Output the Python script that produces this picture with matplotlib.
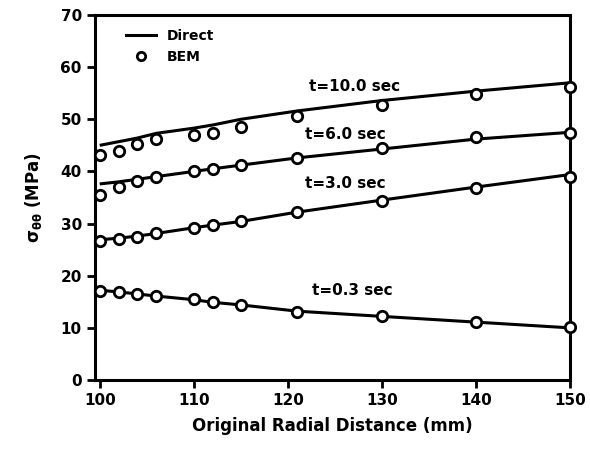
import matplotlib
matplotlib.use("Agg")
import matplotlib.pyplot as plt
from matplotlib.lines import Line2D

# radial distance (mm)
radius = [100, 102, 104, 106, 110, 112, 115, 121, 130, 140, 150]

# direct solution, hoop stress (MPa)
direct_t10 = [45.0, 45.7, 46.4, 47.3, 48.3, 48.9, 50.0, 51.6, 53.6, 55.4, 57.0]
direct_t6 = [37.6, 38.0, 38.5, 39.0, 40.0, 40.5, 41.2, 42.6, 44.3, 46.2, 47.5]
direct_t3 = [26.9, 27.2, 27.6, 28.1, 29.2, 29.7, 30.4, 32.2, 34.5, 37.0, 39.4]
direct_t03 = [17.2, 16.9, 16.5, 16.1, 15.4, 14.9, 14.4, 13.2, 12.2, 11.1, 10.0]

# BEM solution
bem_t10 = [43.1, 44.0, 45.2, 46.2, 46.9, 47.4, 48.5, 50.7, 52.8, 54.8, 56.2]
bem_t6 = [35.5, 37.1, 38.2, 39.0, 40.0, 40.5, 41.3, 42.6, 44.5, 46.6, 47.3]
bem_t3 = [26.6, 27.1, 27.5, 28.1, 29.2, 29.7, 30.4, 32.2, 34.4, 36.8, 39.0]
bem_t03 = [17.0, 16.8, 16.4, 16.1, 15.5, 14.9, 14.4, 13.1, 12.2, 11.1, 10.1]

curve_labels = ["t=10.0 sec", "t=6.0 sec", "t=3.0 sec", "t=0.3 sec"]
label_pos = [(122.2, 54.9), (121.8, 45.7), (121.8, 36.3), (122.6, 15.8)]

x_ticks = [100, 110, 120, 130, 140, 150]
y_ticks = [0, 10, 20, 30, 40, 50, 60, 70]

plt.rcParams["font.family"] = "DejaVu Sans"
plt.rcParams["font.weight"] = "bold"

fig = plt.figure(figsize=(5.9, 4.5), dpi=100)
ax = fig.add_axes([95 / 590, 1 - 380 / 450, 475 / 590, 365 / 450])

for d in (direct_t10, direct_t6, direct_t3, direct_t03):
    ax.plot(radius, d, color="black", lw=2.2, solid_capstyle="butt", zorder=2)
for b in (bem_t10, bem_t6, bem_t3, bem_t03):
    ax.plot(radius, b, ls="none", marker="o", ms=7.5, mfc="white", mec="black",
            mew=2.0, zorder=3, clip_on=False)

for text, (x, y) in zip(curve_labels, label_pos):
    ax.text(x, y, text, fontsize=11, fontweight="bold", ha="left", va="bottom")

ax.set_xlim(99.5, 150)
ax.set_ylim(0, 70)
ax.set_xticks(x_ticks)
ax.set_yticks(y_ticks)
ax.tick_params(direction="out", length=6, width=2, labelsize=11)
for s in ax.spines.values():
    s.set_linewidth(2.2)

ax.set_xlabel("Original Radial Distance (mm)", fontsize=12, fontweight="bold", labelpad=6)
ax.set_ylabel(r"$\mathbf{\sigma_{\theta\theta}}$ (MPa)", fontsize=12, fontweight="bold", labelpad=12)

handles = [
    Line2D([], [], color="black", lw=2.2, label="Direct"),
    Line2D([], [], ls="none", marker="o", ms=6, mfc="white", mec="black", mew=2, label="BEM"),
]
ax.legend(handles=handles, loc="upper left", bbox_to_anchor=(0.035, 1.0), frameon=False,
          fontsize=10, handlelength=2.2, borderaxespad=0.6, labelspacing=0.5)

fig.savefig("out.png", dpi=100)
